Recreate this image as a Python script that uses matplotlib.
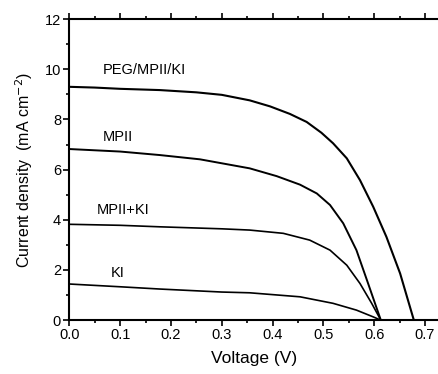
import numpy as np
import matplotlib
matplotlib.use("Agg")
from matplotlib import pyplot as plt
from matplotlib.ticker import MultipleLocator, FormatStrFormatter

plt.rcParams['font.family'] = ['Liberation Sans', 'DejaVu Sans']

# J-V curves (V in volts, J in mA cm^-2)
v_peg = [0.0, 0.05, 0.10, 0.178, 0.25, 0.30, 0.355, 0.395, 0.434, 0.467, 0.496,
         0.519, 0.546, 0.572, 0.598, 0.624, 0.651, 0.678]
j_peg = [9.30, 9.27, 9.22, 9.17, 9.08, 8.98, 8.76, 8.52, 8.22, 7.90, 7.47,
         7.05, 6.45, 5.58, 4.52, 3.32, 1.86, 0.0]

v_mpii = [0.0, 0.10, 0.178, 0.257, 0.355, 0.408, 0.454, 0.487, 0.513, 0.539,
          0.565, 0.588, 0.613]
j_mpii = [6.82, 6.72, 6.58, 6.41, 6.05, 5.74, 5.40, 5.05, 4.59, 3.86,
          2.79, 1.46, 0.0]

v_mpki = [0.0, 0.10, 0.178, 0.30, 0.355, 0.421, 0.473, 0.513, 0.546, 0.572,
          0.595, 0.613]
j_mpki = [3.82, 3.78, 3.72, 3.64, 3.59, 3.46, 3.19, 2.79, 2.19, 1.46,
          0.67, 0.0]

v_ki = [0.0, 0.10, 0.178, 0.30, 0.355, 0.454, 0.519, 0.565, 0.598, 0.613]
j_ki = [1.44, 1.33, 1.24, 1.12, 1.09, 0.93, 0.67, 0.40, 0.13, 0.0]

labels = ["PEG/MPII/KI", "MPII", "MPII+KI", "KI"]
label_pos = [(0.066, 9.97), (0.066, 7.30), (0.054, 4.39), (0.082, 1.87)]

fig = plt.figure(figsize=(4.39, 3.74), dpi=100)
ax = fig.add_axes([0.158, 0.144, 0.842, 0.805])

ax.plot(v_peg, j_peg, color="black", lw=1.5)
ax.plot(v_mpii, j_mpii, color="black", lw=1.4)
ax.plot(v_mpki, j_mpki, color="black", lw=1.2)
ax.plot(v_ki, j_ki, color="black", lw=1.2)

for txt, (x, y) in zip(labels, label_pos):
    ax.text(x, y, txt, fontsize=10.5, ha="left", va="center")

ax.set_xlim(0, 0.7275)
ax.set_ylim(0, 12)
ax.xaxis.set_major_locator(MultipleLocator(0.1))
ax.xaxis.set_minor_locator(MultipleLocator(0.05))
ax.yaxis.set_major_locator(MultipleLocator(2))
ax.yaxis.set_minor_locator(MultipleLocator(1))
ax.xaxis.set_major_formatter(FormatStrFormatter("%.1f"))

ax.spines['right'].set_visible(False)
for s in ['left', 'bottom', 'top']:
    ax.spines[s].set_linewidth(1.5)

ax.tick_params(which="both", direction="out", width=1.2, labelsize=10.5,
               top=True, labeltop=False, pad=2)
ax.tick_params(which="major", length=4)
ax.tick_params(which="minor", length=2.5)

ax.set_xlabel("Voltage (V)", fontsize=12.5, labelpad=6)
ax.set_ylabel("Current density  (mA cm$^{-2}$)", fontsize=11.5, labelpad=7)

fig.savefig("out.png", dpi=100)
